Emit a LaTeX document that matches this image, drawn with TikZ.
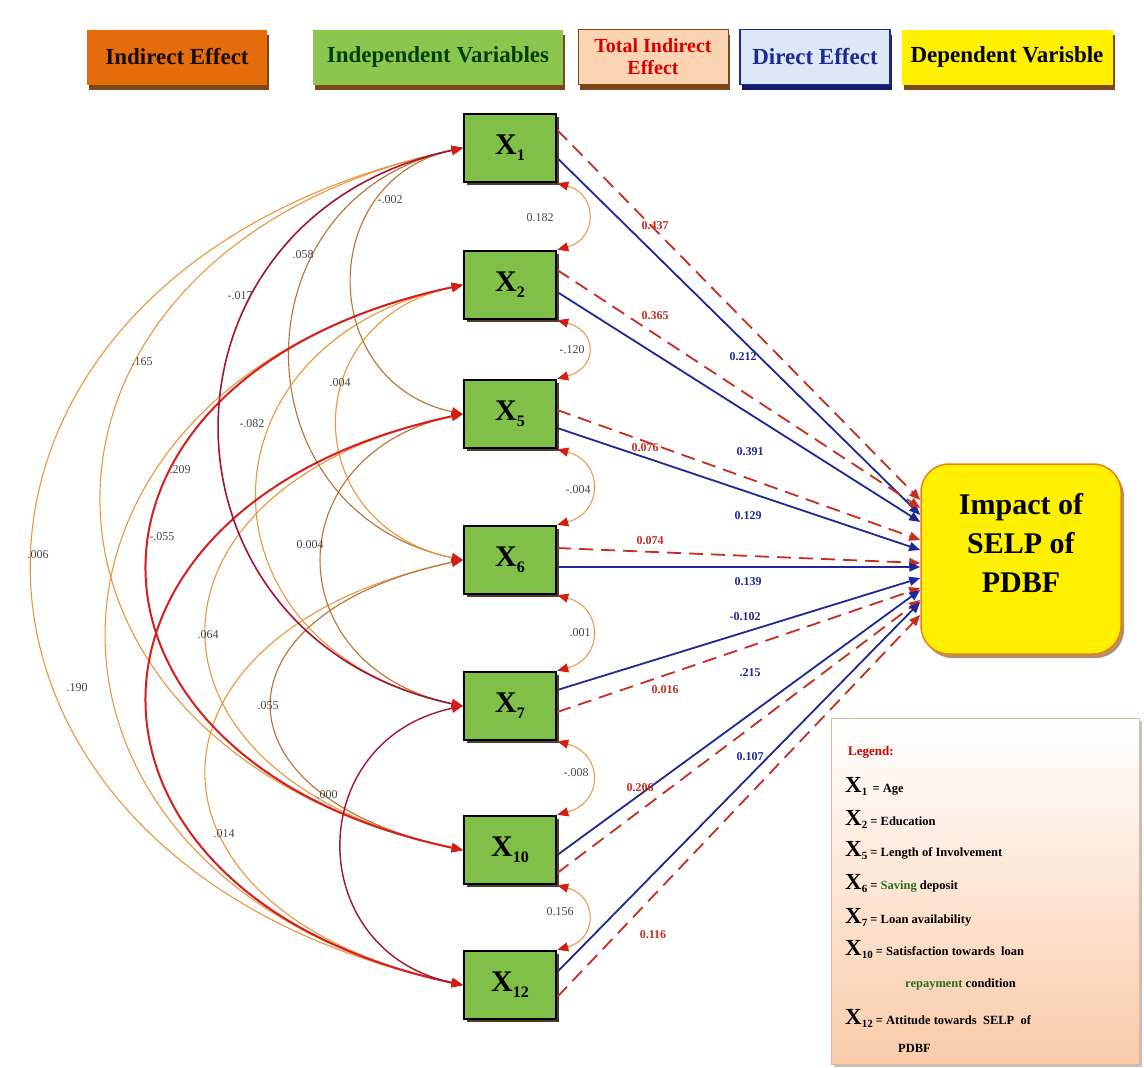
\documentclass[tikz,border=0pt]{standalone}
\usepackage{fontspec}
\setmainfont{Liberation Serif}
\usetikzlibrary{arrows.meta,shadows}
\definecolor{ieFill}{RGB}{228,108,10}
\definecolor{ivFill}{RGB}{140,198,78}
\definecolor{tieFill}{RGB}{251,212,180}
\definecolor{deFill}{RGB}{220,232,246}
\definecolor{dvFill}{RGB}{255,240,0}
\definecolor{shBrown}{RGB}{125,72,22}
\definecolor{boxGreen}{RGB}{128,192,72}
\definecolor{dirBlue}{RGB}{30,40,150}
\definecolor{totRed}{RGB}{200,45,30}
\definecolor{arcOr}{RGB}{236,150,60}
\definecolor{arcBr}{RGB}{190,112,50}
\definecolor{arcRd}{RGB}{215,30,30}
\definecolor{arcDk}{RGB}{165,20,50}
\definecolor{tipRed}{RGB}{210,30,20}
\definecolor{numGray}{RGB}{70,70,70}
\definecolor{legPeach}{RGB}{250,203,168}
\definecolor{legGreen}{RGB}{40,110,30}
\begin{document}
\begin{tikzpicture}[x=1pt,y=-1pt,
  topbox/.style={rectangle, minimum height=55pt, inner sep=1pt, align=center,
    font=\fontsize{23}{24}\selectfont\bfseries,
    drop shadow={opacity=1,fill=shBrown,shadow xshift=2pt,shadow yshift=-5pt}},
  xbox/.style={rectangle, draw=black, line width=2.5pt, fill=boxGreen,
    minimum width=92pt, minimum height=68pt,
    font=\fontsize{30}{30}\selectfont\bfseries,
    drop shadow={opacity=0.85,fill=black!60!shBrown,shadow xshift=3pt,shadow yshift=-3pt}},
  corr/.style={{Triangle[length=11pt,width=9pt,color=tipRed]}-{Triangle[length=11pt,width=9pt,color=tipRed]}},
  thinarc/.style={corr, line width=1.1pt},
  thickarc/.style={corr, line width=2pt},
  direct/.style={-{Triangle[length=11pt,width=9pt]}, draw=dirBlue, line width=1.8pt},
  total/.style={-{Triangle[length=11pt,width=9pt]}, draw=totRed, line width=1.8pt, dash pattern=on 14pt off 8pt},
  num/.style={font=\fontsize{12}{12}\selectfont, text=numGray, inner sep=1pt},
  bnum/.style={font=\fontsize{12}{12}\selectfont\bfseries, text=dirBlue, inner sep=1pt},
  rnum/.style={font=\fontsize{12}{12}\selectfont\bfseries, text=totRed, inner sep=1pt},
  legx/.style={anchor=west, inner sep=0pt, font=\fontsize{12.5}{13}\selectfont\bfseries}
]
\useasboundingbox (0,0) rectangle (1144,1068);
\fill[white] (0,0) rectangle (1144,1068);

% top legend boxes
\node[topbox, fill=ieFill, minimum width=180pt, text=black!80!shBrown] (ie) at (177,57) {Indirect Effect};
\node[topbox, fill=ivFill, minimum width=250pt, text=black!75!green] (iv) at (438,57) {Independent Variables};
\node[topbox, fill=tieFill, draw=shBrown, line width=1pt, minimum width=150pt, text=red!85!black,
      font=\fontsize{20}{22}\selectfont\bfseries] (tie) at (653,57) {Total Indirect\\Effect};
\node[topbox, fill=deFill, draw=dirBlue, line width=1.8pt, minimum width=150pt, text=dirBlue,
      drop shadow={opacity=1,fill=dirBlue!70!black,shadow xshift=2pt,shadow yshift=-5pt}] (de) at (815,57) {Direct Effect};
\node[topbox, fill=dvFill, minimum width=211pt, text=black] (dv) at (1007,57) {Dependent Varisble};

% independent variable boxes
\node[xbox] (X1)  at (510,148) {X\raisebox{-6pt}{\fontsize{16}{16}\selectfont 1}};
\node[xbox] (X2)  at (510,285) {X\raisebox{-6pt}{\fontsize{16}{16}\selectfont 2}};
\node[xbox] (X5)  at (510,414) {X\raisebox{-6pt}{\fontsize{16}{16}\selectfont 5}};
\node[xbox] (X6)  at (510,560) {X\raisebox{-6pt}{\fontsize{16}{16}\selectfont 6}};
\node[xbox] (X7)  at (510,706) {X\raisebox{-6pt}{\fontsize{16}{16}\selectfont 7}};
\node[xbox] (X10) at (510,850) {X\raisebox{-6pt}{\fontsize{16}{16}\selectfont 10}};
\node[xbox] (X12) at (510,985) {X\raisebox{-6pt}{\fontsize{16}{16}\selectfont 12}};

% dependent variable
\node[rectangle, rounded corners=28pt, minimum width=200pt, minimum height=190pt,
      fill=dvFill, draw=orange!75!brown, line width=1.5pt, align=center,
      font=\fontsize{30}{39}\selectfont\bfseries,
      drop shadow={opacity=0.6,fill=shBrown,shadow xshift=3pt,shadow yshift=-4pt}] (dep) at (1021,559)
      {Impact of\\SELP of\\PDBF\\[-7pt]};

% legend box
\node[rectangle, minimum width=308pt, minimum height=346pt, draw=arcBr!50, line width=1pt,
      top color=white, bottom color=legPeach,
      drop shadow={opacity=0.4,fill=black!60,shadow xshift=3pt,shadow yshift=-3pt}] (lgbox) at (985,891) {};
\node[legx, text=red!80!black, font=\fontsize{13}{13}\selectfont\bfseries] (lg0) at (848,752) {Legend:};
\newcommand{\lgX}[1]{{\fontsize{23}{23}\selectfont X}\raisebox{-3pt}{\fontsize{11}{11}\selectfont #1}}
\node[legx] (lg1) at (845,786) {\lgX{1}\, = Age};
\node[legx] (lg2) at (845,819) {\lgX{2} = Education};
\node[legx] (lg3) at (845,851) {\lgX{5} = Length of Involvement};
\node[legx] (lg4) at (845,884) {\lgX{6} = \textcolor{legGreen}{Saving} deposit};
\node[legx] (lg5) at (845,917) {\lgX{7} = Loan availability};
\node[legx] (lg6) at (845,950) {\lgX{10} = Satisfaction towards \ loan};
\node[legx] (lg7) at (905,985) {\textcolor{legGreen}{repayment} condition};
\node[legx] (lg8) at (845,1018) {\lgX{12} = Attitude towards \ SELP \ of};
\node[legx] (lg9) at (898,1048) {PDBF};

% left correlation arcs
\draw[thinarc, arcOr] (X1.west) .. controls +(168:586) and +(192:586) .. (X12.west);
\draw[thinarc, arcOr] (X1.west) .. controls +(168:491) and +(192:491) .. (X10.west);
\draw[thinarc, arcOr] (X2.west) .. controls +(168:484) and +(192:484) .. (X12.west);
\draw[thinarc, arcOr] (X5.west) .. controls +(168:348) and +(192:348) .. (X10.west);
\draw[thinarc, arcOr] (X6.west) .. controls +(168:348) and +(192:348) .. (X12.west);
\draw[thinarc, arcBr] (X1.west) .. controls +(168:234) and +(192:234) .. (X6.west);
\draw[thinarc, arcOr] (X2.west) .. controls +(168:279) and +(192:279) .. (X7.west);
\draw[thinarc, arcBr] (X6.west) .. controls +(168:259) and +(192:259) .. (X10.west);
\draw[thinarc, arcBr] (X1.west) .. controls +(168:150) and +(192:150) .. (X5.west);
\draw[thinarc, arcOr] (X2.west) .. controls +(168:170) and +(192:170) .. (X6.west);
\draw[thinarc, arcBr] (X5.west) .. controls +(168:191) and +(192:191) .. (X7.west);
\draw[thickarc, arcRd] (X2.west) .. controls +(168:429) and +(192:429) .. (X10.west);
\draw[thickarc, arcRd] (X5.west) .. controls +(168:429) and +(192:429) .. (X12.west);
\draw[thickarc, arcDk, line width=1.6pt] (X1.west) .. controls +(168:330) and +(192:330) .. (X7.west);
\draw[thinarc, arcDk, line width=1.4pt] (X7.west) .. controls +(168:164) and +(192:164) .. (X12.west);

% left arc labels
\node[num] (c1)  at (390,200) {-.002};
\node[num] (c2)  at (303,255) {.058};
\node[num] (c3)  at (240,296) {-.017};
\node[num] (c4)  at (142,362) {.165};
\node[num] (c5)  at (340,383) {.004};
\node[num] (c6)  at (252,424) {-.082};
\node[num] (c7)  at (180,470) {.209};
\node[num] (c8)  at (162,537) {-.055};
\node[num] (c9)  at (310,545) {0.004};
\node[num] (c10) at (38,555)  {.006};
\node[num] (c11) at (208,635) {.064};
\node[num] (c12) at (77,688)  {.190};
\node[num] (c13) at (268,706) {.055};
\node[num] (c14) at (327,795) {.000};
\node[num] (c15) at (224,834) {.014};

% right adjacent arcs
\draw[thinarc, arcOr, line width=1pt] (X1.south east) .. controls +(15:42) and +(-15:42) .. (X2.north east);
\draw[thinarc, arcOr, line width=1pt] (X2.south east) .. controls +(15:42) and +(-15:42) .. (X5.north east);
\draw[thinarc, arcOr, line width=1pt] (X5.south east) .. controls +(15:48) and +(-15:48) .. (X6.north east);
\draw[thinarc, arcOr, line width=1pt] (X6.south east) .. controls +(15:48) and +(-15:48) .. (X7.north east);
\draw[thinarc, arcOr, line width=1pt] (X7.south east) .. controls +(15:48) and +(-15:48) .. (X10.north east);
\draw[thinarc, arcOr, line width=1pt] (X10.south east) .. controls +(15:42) and +(-15:42) .. (X12.north east);
\node[num] (r1) at (540,218) {0.182};
\node[num] (r2) at (572,350) {-.120};
\node[num] (r3) at (578,490) {-.004};
\node[num] (r4) at (580,633) {.001};
\node[num] (r5) at (576,773) {-.008};
\node[num] (r6) at (560,912) {0.156};

% total indirect (dashed) and direct effects
\draw[total]  ([yshift=18pt]X1.east)  -- ([yshift=59pt]dep.west);
\draw[direct] ([yshift=-10pt]X1.east) -- ([yshift=44pt]dep.west);
\draw[total]  ([yshift=15pt]X2.east)  -- ([yshift=51pt]dep.west);
\draw[direct] ([yshift=-7pt]X2.east)  -- ([yshift=37pt]dep.west);
\draw[total]  ([yshift=4pt]X5.east)   -- ([yshift=19pt]dep.west);
\draw[direct] ([yshift=-14pt]X5.east) -- ([yshift=9pt]dep.west);
\draw[total]  ([yshift=12pt]X6.east)  -- ([yshift=-4pt]dep.west);
\draw[direct] ([yshift=-7pt]X6.east)  -- ([yshift=-8pt]dep.west);
\draw[direct] ([yshift=16pt]X7.east)  -- ([yshift=-19pt]dep.west);
\draw[total]  ([yshift=-6pt]X7.east)  -- ([yshift=-29pt]dep.west);
\draw[direct] ([yshift=-5pt]X10.east) -- ([yshift=-31pt]dep.west);
\draw[total]  ([yshift=-23pt]X10.east) -- ([yshift=-41pt]dep.west);
\draw[direct] ([yshift=13pt]X12.east) -- ([yshift=-43pt]dep.west);
\draw[total]  ([yshift=-12pt]X12.east) -- ([yshift=-56pt]dep.west);

% effect labels
\node[rnum] (t1) at (655,226) {0.437};
\node[rnum] (t2) at (655,316) {0.365};
\node[rnum] (t3) at (645,448) {0.076};
\node[rnum] (t4) at (650,541) {0.074};
\node[rnum] (t5) at (665,690) {0.016};
\node[rnum] (t6) at (640,788) {0.206};
\node[rnum] (t7) at (653,935) {0.116};
\node[bnum] (d1) at (743,357) {0.212};
\node[bnum] (d2) at (750,452) {0.391};
\node[bnum] (d3) at (748,516) {0.129};
\node[bnum] (d4) at (748,582) {0.139};
\node[bnum] (d5) at (745,617) {-0.102};
\node[bnum] (d6) at (750,673) {.215};
\node[bnum] (d7) at (750,757) {0.107};
\end{tikzpicture}
\end{document}
